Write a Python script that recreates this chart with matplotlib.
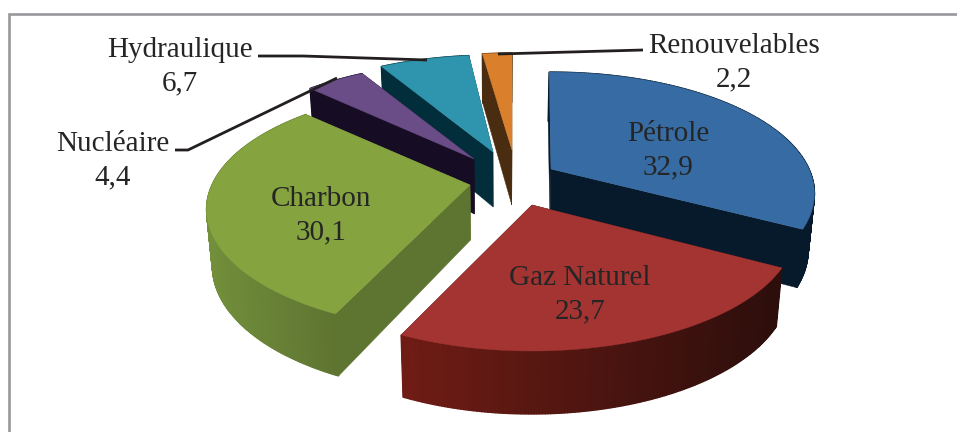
import numpy as np
import matplotlib
matplotlib.use("Agg")
import matplotlib.pyplot as plt
from matplotlib.colors import to_rgb

plt.rcParams["font.family"] = ["Liberation Serif", "DejaVu Serif"]

categories = ["Pétrole", "Gaz Naturel", "Charbon", "Nucléaire", "Hydraulique", "Renouvelables"]
values = [32.9, 23.7, 30.1, 4.4, 6.7, 2.2]

# looks
top_colors = ["#366BA4", "#A33432", "#85A33F", "#6A4C87", "#2F95AE", "#DA7F2C"]
wall_colors = ["#061A2B", "#2C0E0B", "#5E7431", "#160C24", "#022D3B", "#4A2C10"]
rim_left = ["#061A2B", "#701C15", "#728F3B", "#160C24", "#022D3B", "#4A2C10"]
rim_right = ["#061A2B", "#2C0E0B", "#5E7431", "#160C24", "#022D3B", "#4A2C10"]

# where the tip of each exploded slice ends up, in pixels, and a small turn per slice
tips_x = [551, 532, 470, 474, 493, 512]
tips_y = [169, 205, 185, 159, 152, 150]
turns = [-0.5, 0.7, 1.5, 1.5, 1.5, 0]
draw_order = [4, 5, 3, 2, 0, 1]

RX, RY, PERSP = 258, 116.5, 0.202
DEPTH, SHRINK, MID_X = 55, 0.98, 500


def project(i, ang, r=1.0):
    # ang in degrees, clockwise from the top of the pie
    a = np.radians(ang)
    gx, gy = r * np.sin(a), r * np.cos(a)
    s = 1 / (1 + PERSP * gy)
    x = tips_x[i] + RX * gx * s
    y = tips_y[i] - RY * gy * s
    d = DEPTH * s ** 0.6
    return x, y, MID_X + (x - MID_X) * SHRINK, y + d


fig = plt.figure(figsize=(9.57, 4.32), dpi=100)
ax = fig.add_axes([0, 0, 1, 1])
ax.set_xlim(0, 957)
ax.set_ylim(432, 0)
ax.axis("off")

# frame round the chart, open on the right and at the bottom
ax.plot([9, 9, 957], [432, 14, 14], color="#98989C", lw=1.9, solid_joinstyle="miter")

edges = np.concatenate([[0], np.cumsum(values)]) / sum(values) * 360

for i in draw_order:
    a0, a1 = edges[i] + turns[i], edges[i + 1] + turns[i]
    angs = np.linspace(a0, a1, int(a1 - a0) * 2 + 2)
    x, y, xb, yb = project(i, angs)
    tip = project(i, 0, 0)
    z = 1 + draw_order.index(i)

    # the two flat cut faces
    for k in [0, -1]:
        ax.fill([tip[0], x[k], xb[k], tip[2]], [tip[1], y[k], yb[k], tip[3]],
                color=wall_colors[i], lw=0.3, zorder=z)

    # outer rim, shaded strip by strip from left to right
    left, right = np.array(to_rgb(rim_left[i])), np.array(to_rgb(rim_right[i]))
    for k in range(len(angs) - 1):
        f = (x[k] - x.min()) / (x.max() - x.min())
        c = left + (right - left) * f
        ax.fill([x[k], x[k + 1], xb[k + 1], xb[k]], [y[k], y[k + 1], yb[k + 1], yb[k]],
                color=c, lw=1.0, zorder=z)

    ax.fill(np.r_[tip[0], x], np.r_[tip[1], y], color=top_colors[i], lw=0.3, zorder=z)


def label(i):
    return categories[i] + "\n" + str(values[i]).replace(".", ",")


text_x = [668, 580, 321, 113, 180, 734]
text_y = [150.5, 294.5, 215.5, 160.5, 66.5, 62.5]
for i in range(len(categories)):
    ax.text(text_x[i], text_y[i], label(i), ha="center", va="center", fontsize=21,
            color="#252525", linespacing=1.35, zorder=20)

# leader lines
for lx, ly in [([258, 303, 427], [56, 56, 60]),
               ([175, 188, 337], [150, 150, 78]),
               ([498, 643], [54, 50])]:
    ax.plot(lx, ly, color="#231F20", lw=2.0, zorder=19, solid_capstyle="butt")

fig.savefig("out.png", dpi=100)
